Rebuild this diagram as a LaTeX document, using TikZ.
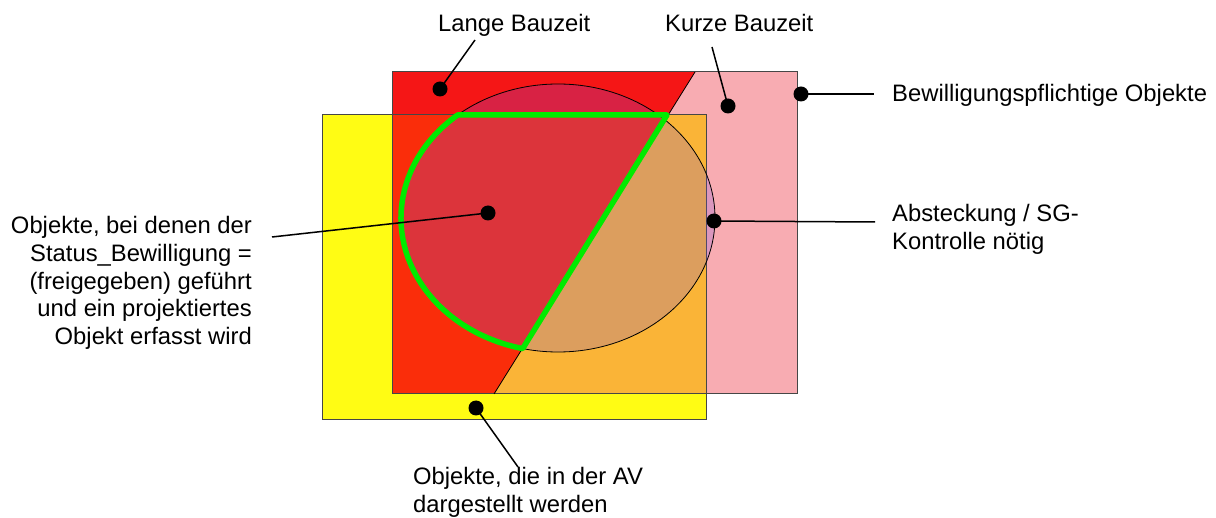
\documentclass[tikz,border=0pt]{standalone}
\usepackage{fontspec}
\setmainfont{Liberation Sans}
\definecolor{pinkc}{RGB}{248,172,178}
\definecolor{redc}{RGB}{245,22,22}
\definecolor{redy}{RGB}{250,45,10}
\definecolor{yellowc}{RGB}{255,252,20}
\definecolor{orangec}{RGB}{250,180,55}
\definecolor{violetc}{RGB}{115,80,235}
\definecolor{greenc}{RGB}{0,235,0}
\definecolor{edgec}{RGB}{70,70,70}
\tikzset{
  lbl/.style={font=\fontsize{23.8}{27.6}\selectfont, inner sep=0pt, text=black},
  dotc/.style={circle, fill=black, minimum size=15pt, inner sep=0pt},
  leader/.style={draw=black, line width=1.5pt},
  rectedge/.style={draw=edgec, line width=1pt},
}
\begin{document}
\begin{tikzpicture}[x=1pt,y=1pt]
\useasboundingbox (0,0) rectangle (1216,-518);
% pink rectangle (Bewilligungspflichtige Objekte)
\fill[pinkc] (392,-72) rectangle (797,-394);
% red part (Lange Bauzeit)
\fill[redc] (392,-72) -- (695,-72) -- (494,-394) -- (392,-394) -- cycle;
% yellow rectangle (AV)
\fill[yellowc] (322,-115) rectangle (706,-420);
\begin{scope}
  \clip (322,-115) rectangle (706,-420);
  \fill[orangec] (392,-72) rectangle (797,-394);
  \fill[redy] (392,-72) -- (695,-72) -- (494,-394) -- (392,-394) -- cycle;
\end{scope}
\draw[rectedge] (322,-115) rectangle (706,-420);
\draw[rectedge] (392,-72) rectangle (797,-394);
\draw[black, line width=0.8pt] (695,-72) -- (494,-394);
% ellipse (Absteckung)
\fill[violetc, opacity=0.22] (558,-218) ellipse [x radius=157pt, y radius=134pt];
\draw[black, line width=0.8pt] (558,-218) ellipse [x radius=157pt, y radius=134pt];
% green outline
\draw[greenc, line width=5.5pt, line join=round]
  (457.5,-115) -- (667,-115) -- (522.7,-348.6)
  arc[start angle=257, end angle=129.76, x radius=157pt, y radius=134pt] -- cycle;
% dots
\node[dotc] (dLange) at (440,-89) {};
\node[dotc] (dKurz) at (728,-106) {};
\node[dotc] (dBew) at (801,-94) {};
\node[dotc] (dAbst) at (714,-221) {};
\node[dotc] (dObj) at (488,-213) {};
\node[dotc] (dAV) at (476,-408) {};
% leader ends
\coordinate (eLange) at (475,-40);
\coordinate (eKurz) at (712,-47);
\coordinate (eBew) at (874,-94);
\coordinate (eAbst) at (875,-222);
\coordinate (eObj) at (272,-237);
\coordinate (eAV) at (518,-467);
\draw[leader] (dLange.center) -- (eLange);
\draw[leader] (dKurz.center) -- (eKurz);
\draw[leader] (dBew.center) -- (eBew);
\draw[leader] (dAbst.center) -- (eAbst);
\draw[leader] (dObj.center) -- (eObj);
\draw[leader] (dAV.center) -- (eAV);
% labels
\node[lbl, anchor=base west] (tLange) at (438,-32) {Lange Bauzeit};
\node[lbl, anchor=base west] (tKurz) at (665,-32) {Kurze Bauzeit};
\node[lbl, anchor=base west] (tBew) at (892,-102) {Bewilligungspflichtige Objekte};
\node[lbl, anchor=north west, align=left] (tAbst) at (892,-204.5) {Absteckung / SG-\\Kontrolle nötig};
\node[lbl, anchor=north east, align=right] (tObj) at (252,-216.5) {Objekte, bei denen der\\Status\_Bewilligung =\\(freigegeben) geführt\\und ein projektiertes\\Objekt erfasst wird};
\node[lbl, anchor=north west, align=left] (tAV) at (413,-467.5) {Objekte, die in der AV\\dargestellt werden};
\end{tikzpicture}
\end{document}
